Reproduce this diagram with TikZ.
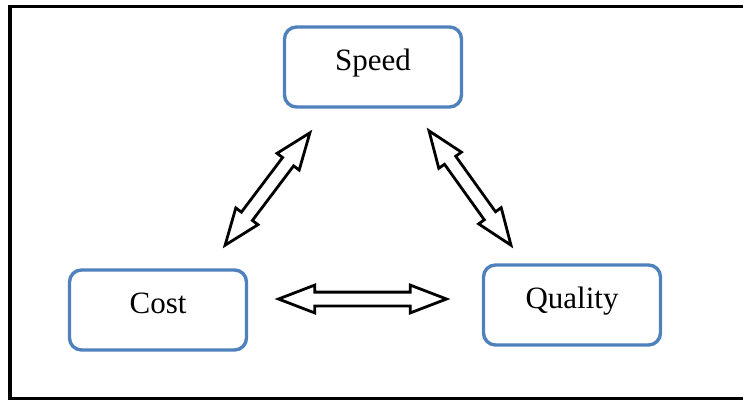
\documentclass[tikz,border=0pt]{standalone}
\usepackage{fontspec}
\setmainfont{Liberation Serif}
\usetikzlibrary{shapes.arrows,calc}
\definecolor{boxblue}{HTML}{4F81BD}
\tikzset{
  factor/.style={draw=boxblue, line width=3.4pt, rounded corners=12pt, fill=white,
    minimum width=177pt, minimum height=80pt, inner sep=0pt,
    font=\fontsize{31}{36}\selectfont, text height=15pt, text depth=9pt},
  blockarrow/.style={double arrow, draw=black, line width=2.8pt, fill=white,
    inner xsep=0pt, inner ysep=5.5pt, double arrow head extend=7pt,
    double arrow tip angle=42, anchor=center}
}
% block arrow between two named points
\newcommand\tradeoff[2]{%
  \path let \p1=($(#2)-(#1)$), \n1={atan2(\y1,\x1)}, \n2={veclen(\x1,\y1)} in
    node[blockarrow, minimum height=\n2, rotate=\n1] at ($(#1)!0.5!(#2)$) {};}
\begin{document}
\begin{tikzpicture}[x=1pt, y=-1pt]
  \useasboundingbox (0,0) rectangle (743,400);
  % outer frame
  \draw[line width=3.5pt] (9.75,6.5) rectangle (760,398.3);

  \node[factor] (speed)   at (373,67)  {Speed};
  \node[factor] (cost)    at (158,310) {Cost};
  \node[factor] (quality) at (572,305) {Quality};

  % arrow end points
  \coordinate (sc1) at (309.9,132.8);
  \coordinate (sc2) at (225.1,245.2);
  \coordinate (sq1) at (429,130.8);
  \coordinate (sq2) at (511,245.2);
  \coordinate (cq1) at (278.5,299);
  \coordinate (cq2) at (446.5,299);

  \tradeoff{sc2}{sc1}
  \tradeoff{sq1}{sq2}
  \tradeoff{cq1}{cq2}
\end{tikzpicture}
\end{document}
